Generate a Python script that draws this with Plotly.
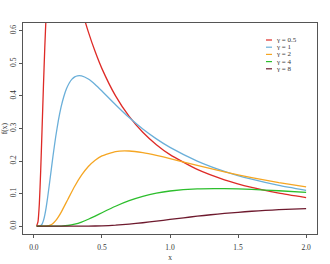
import plotly.graph_objects as go

# ---- data ----
gammas = ["0.5", "1", "2", "4", "8"]
colors = ["#DE2A26", "#6AAFD9", "#F5A623", "#2DBE2D", "#6E1A2E"]

x_g05 = [0.02, 0.03, 0.04, 0.05, 0.06, 0.07, 0.08, 0.09, 0.10, 0.12, 0.14, 0.16, 0.18, 0.20,
         0.25, 0.30, 0.35, 0.40, 0.45, 0.50, 0.60, 0.70, 0.80, 0.90, 1.0, 1.2, 1.4, 1.6, 1.8, 2.0]
y_g05 = [0.0004, 0.0131, 0.0681, 0.1700, 0.2976, 0.4283, 0.5477, 0.6496, 0.7322, 0.8450, 0.9029,
         0.9239, 0.9211, 0.9035, 0.8302, 0.7461, 0.6669, 0.5968, 0.5362, 0.4839, 0.4001, 0.3370,
         0.2884, 0.2503, 0.2197, 0.1742, 0.1425, 0.1192, 0.1017, 0.0880]

x_g1 = [0.02, 0.03, 0.04, 0.05, 0.06, 0.07, 0.08, 0.09, 0.10, 0.12, 0.14, 0.16, 0.18, 0.20,
        0.22, 0.24, 0.26, 0.28, 0.30, 0.32, 0.35, 0.40, 0.45, 0.50, 0.60, 0.70, 0.80, 0.90,
        1.0, 1.2, 1.4, 1.6, 1.8, 2.0]
y_g1 = [0.0, 0.0, 0.0002, 0.0016, 0.0065, 0.0170, 0.0340, 0.0571, 0.0850, 0.1488, 0.2141,
        0.2739, 0.3248, 0.3661, 0.3983, 0.4225, 0.4398, 0.4515, 0.4586, 0.4619, 0.4617, 0.4518,
        0.4350, 0.4151, 0.3731, 0.3335, 0.2984, 0.2681, 0.2420, 0.2001, 0.1685, 0.1442, 0.1251,
        0.1099]

x_g2 = [0.02, 0.06, 0.08, 0.10, 0.12, 0.14, 0.16, 0.18, 0.20, 0.25, 0.30, 0.35, 0.40, 0.45,
        0.50, 0.60, 0.70, 0.80, 0.90, 1.0, 1.2, 1.4, 1.6, 1.8, 2.0]
y_g2 = [0.0, 0.0, 0.0001, 0.0008, 0.0033, 0.0085, 0.0170, 0.0286, 0.0425, 0.0827, 0.1225,
        0.1565, 0.1831, 0.2025, 0.2160, 0.2293, 0.2309, 0.2259, 0.2175, 0.2076, 0.1865, 0.1667,
        0.1492, 0.1340, 0.1210]

x_g4 = [0.02, 0.10, 0.15, 0.20, 0.25, 0.30, 0.35, 0.40, 0.45, 0.50, 0.60, 0.70, 0.80, 0.90,
        1.0, 1.2, 1.4, 1.6, 1.8, 2.0]
y_g4 = [0.0, 0.0, 0.0000, 0.0004, 0.0021, 0.0062, 0.0127, 0.0213, 0.0310, 0.0413, 0.0612,
        0.0782, 0.0915, 0.1013, 0.1080, 0.1147, 0.1154, 0.1130, 0.1088, 0.1038]

x_g8 = [0.02, 0.1, 0.2, 0.3, 0.4, 0.5, 0.6, 0.7, 0.8, 0.9, 1.0, 1.1, 1.2, 1.3, 1.4, 1.5, 1.6,
        1.7, 1.8, 1.9, 2.0]
y_g8 = [0.0, 0.0, 0.0, 0.0000, 0.0002, 0.0011, 0.0031, 0.0064, 0.0106, 0.0155, 0.0207, 0.0258,
        0.0306, 0.0351, 0.0391, 0.0427, 0.0458, 0.0484, 0.0506, 0.0525, 0.0540]

x_ticks = [0.0, 0.5, 1.0, 1.5, 2.0]
x_ticklabels = ["0.0", "0.5", "1.0", "1.5", "2.0"]
y_ticks = [0.0, 0.1, 0.2, 0.3, 0.4, 0.5, 0.6]
y_ticklabels = ["0.0", "0.1", "0.2", "0.3", "0.4", "0.5", "0.6"]

series = [(x_g05, y_g05), (x_g1, y_g1), (x_g2, y_g2), (x_g4, y_g4), (x_g8, y_g8)]

FONT = "Liberation Serif"
AXC = "#555555"
TXT = "#333333"

fig = go.Figure()
for (xs, ys), g, c in zip(series, gammas, colors):
    fig.add_trace(go.Scatter(x=xs, y=ys, mode="lines", name="γ = " + g,
                             line=dict(color=c, width=1.3, shape="spline", smoothing=0.5),
                             showlegend=False))

# manual legend (short line samples like R's legend())
W, H = 330, 264
L, R, T, B = 23, 13, 23, 30
pw, ph = W - L - R, H - T - B
def px(xp):
    return (xp - L) / pw
def py(yp):
    return 1 - (yp - T) / ph

shapes = []
annotations = []
row0, dy = 40, 7.2
for i, (g, c) in enumerate(zip(gammas, colors)):
    yy = row0 + i * dy
    shapes.append(dict(type="line", xref="paper", yref="paper",
                       x0=px(266), x1=px(272), y0=py(yy), y1=py(yy),
                       line=dict(color=c, width=1.2)))
    annotations.append(dict(xref="paper", yref="paper", x=px(274), y=py(yy),
                            text="γ = " + g, showarrow=False, xanchor="left",
                            yanchor="middle", font=dict(family=FONT, size=7, color=TXT)))

fig.update_layout(
    width=W, height=H,
    margin=dict(l=L, r=R, t=T, b=B, autoexpand=False),
    paper_bgcolor="white", plot_bgcolor="white",
    shapes=shapes, annotations=annotations,
    font=dict(family=FONT, size=7, color=TXT),
    xaxis=dict(range=[-0.08, 2.08], tickvals=x_ticks, ticktext=x_ticklabels,
               showgrid=False, zeroline=False, showline=True, mirror=True, automargin=False,
               linecolor=AXC, linewidth=1, ticks="outside", ticklen=3, tickcolor=AXC,
               ticklabelstandoff=3,
               tickfont=dict(family=FONT, size=7.5, color=TXT),
               title=dict(text="x", font=dict(family=FONT, size=7.5, color=TXT), standoff=3)),
    yaxis=dict(range=[-0.024, 0.624], tickvals=y_ticks, ticktext=y_ticklabels,
               showgrid=False, zeroline=False, showline=True, mirror=True, automargin=False,
               linecolor=AXC, linewidth=1, ticks="outside", ticklen=3, tickcolor=AXC,
               tickangle=-90,
               tickfont=dict(family=FONT, size=7.5, color=TXT),
               title=dict(text="f(x)", font=dict(family=FONT, size=7.5, color=TXT), standoff=3)),
)

fig.write_html("out.html")
